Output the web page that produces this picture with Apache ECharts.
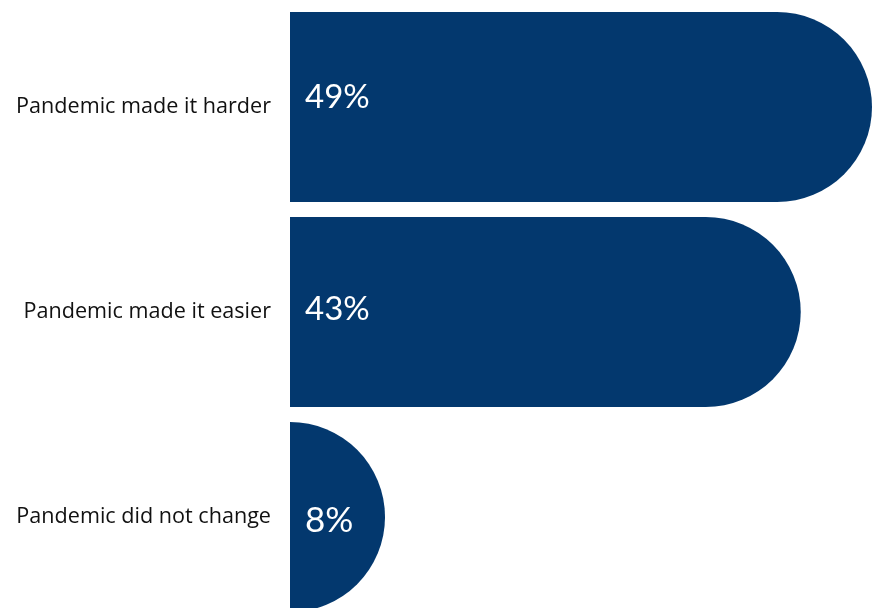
<!DOCTYPE html>
<html>
<head>
<meta charset="utf-8">
<script src="https://cdn.jsdelivr.net/npm/echarts@6/dist/echarts.min.js"></script>
<style>
html,body{margin:0;padding:0;background:#fff;}
#chart{width:872px;height:608px;}
</style>
</head>
<body>
<div id="chart"></div>
<script>
var categories = ["Pandemic made it harder", "Pandemic made it easier", "Pandemic did not change"];
var values = [49, 43, 8];
var valueLabels = ["49%", "43%", "8%"];

var labelOffsets = [[0, -10], [0, -3], [0, 4]];
var labelSizes = [33, 33, 35];

var chart = echarts.init(document.getElementById('chart'), null, {renderer: 'canvas'});
chart.setOption({
  animation: false,
  backgroundColor: '#ffffff',
  grid: {left: 290, top: 4.5, width: 582, height: 615, outerBoundsMode: 'none', containLabel: false},
  xAxis: {
    type: 'value', min: 0, max: 49,
    show: false
  },
  yAxis: {
    type: 'category', data: categories, inverse: true,
    axisLine: {show: false}, axisTick: {show: false}, splitLine: {show: false},
    axisLabel: {fontSize: 21.6, color: '#111111', fontFamily: '"Open Sans", "Noto Sans", sans-serif', margin: 19}
  },
  series: [{
    type: 'bar',
    barWidth: 190,
    data: values.map(function (v, i) {
      return {
        value: v,
        label: {
          show: true,
          position: 'insideLeft',
          distance: 15,
          offset: labelOffsets[i],
          fontSize: labelSizes[i],
          formatter: valueLabels[i]
        }
      };
    }),
    itemStyle: {color: '#03386E', borderRadius: [0, 95, 95, 0]},
    label: {
      color: '#ffffff',
      fontFamily: 'Lato, "Noto Sans", sans-serif'
    }
  }]
});
</script>
</body>
</html>
